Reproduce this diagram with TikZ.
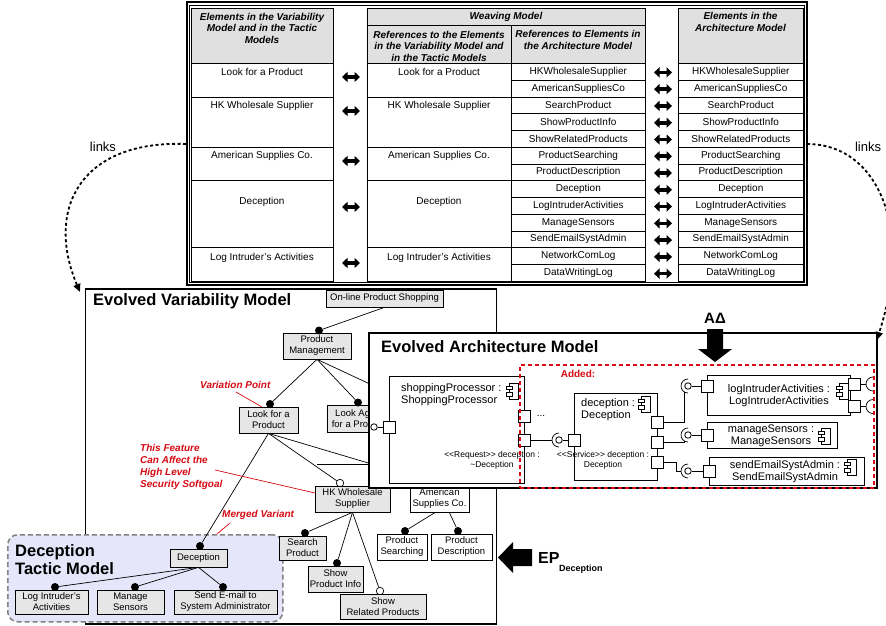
\documentclass[tikz,border=0pt]{standalone}
\usepackage{fontspec}
\setmainfont{Liberation Sans}
\usetikzlibrary{arrows.meta,calc}
\definecolor{hdrgray}{RGB}{224,224,224}
\definecolor{featgray}{RGB}{230,230,230}
\definecolor{tacticbg}{RGB}{230,230,250}
\definecolor{tacticedge}{RGB}{128,128,128}
\definecolor{notered}{RGB}{215,10,20}
\newcommand\setsz[2]{\fontsize{#1}{#2}\selectfont}

\begin{document}
\begin{tikzpicture}[x=1pt, y=-1pt,
  cell/.style={draw, line width=0.6pt, inner sep=0pt, anchor=north west, font=\setsz{10}{12}},
  hcell/.style={cell, fill=hdrgray},
  htext/.style={inner sep=0pt, align=center, font=\setsz{10}{11.5}\bfseries\itshape},
  btext/.style={inner sep=0pt, font=\setsz{10}{12}},
  dbl/.style={line width=3.6pt, {Triangle[length=5.5pt,width=10pt]}-{Triangle[length=5.5pt,width=10pt]}},
  feat/.style={draw, line width=0.7pt, fill=featgray, inner sep=0pt, align=center, font=\setsz{9.5}{11}},
  featw/.style={feat, fill=white},
  dot/.style={circle, fill=black, inner sep=0pt, minimum size=8pt},
  odot/.style={circle, draw, line width=0.7pt, fill=white, inner sep=0pt, minimum size=7.5pt},
  edge/.style={line width=0.7pt},
  note/.style={text=notered, inner sep=0pt, font=\setsz{10}{12}\bfseries\itshape},
  noteline/.style={draw=notered, line width=0.7pt},
  link/.style={line width=1.8pt, dash pattern=on 3pt off 2.5pt, -{Triangle[length=8pt,width=7pt]}},
  title/.style={inner sep=0pt, font=\setsz{16.5}{18}\bfseries},
  comp/.style={draw, line width=0.8pt, fill=white, inner sep=0pt, anchor=north west},
  ctext/.style={inner sep=0pt, align=center, font=\setsz{11}{12}},
  port/.style={draw, line width=0.8pt, fill=white, minimum size=12pt, inner sep=0pt},
  ball/.style={circle, draw, line width=0.8pt, fill=white, minimum size=6.5pt, inner sep=0pt},
  stereo/.style={inner sep=0pt, align=center, font=\setsz{8.5}{10.5}},
  compicon/.pic={
    \draw[line width=0.6pt, fill=white] (-4,-8) rectangle (5,8);
    \draw[line width=0.6pt, fill=white] (-7,-5) rectangle (-1,-1.5);
    \draw[line width=0.6pt, fill=white] (-7,1.5) rectangle (-1,5);
  }
]
\useasboundingbox (0,0) rectangle (886,626);
\clip (0,0) rectangle (886,626);

% ---------------- weaving table ----------------
\draw[line width=2pt] (186.5,2.5) rectangle (806.5,284.5);
\draw[line width=0.5pt] (189.5,5.5) rectangle (804,282);

\node[hcell, minimum width=142, minimum height=55] (h1) at (191,8) {};
\node[htext] (h1t) at (262,28) {Elements in the Variability\\Model and in the Tactic\\Models};
\node[hcell, minimum width=278, minimum height=17] (hw) at (367,8) {};
\node[htext] (hwt) at (506,16.5) {Weaving Model};
\node[hcell, minimum width=144, minimum height=38] (hwa) at (367,25) {};
\node[htext] (hwat) at (439,46) {References to the Elements\\in the Variability Model and\\in the Tactic Models};
\node[hcell, minimum width=134, minimum height=38] (hwb) at (511,25) {};
\node[htext] (hwbt) at (578,40) {References to Elements in\\the Architecture Model};
\node[hcell, minimum width=125, minimum height=55] (ha) at (678,8) {};
\node[htext] (hat) at (740.5,22) {Elements in the\\Architecture Model};

% grouped rows (variability / tactic elements)
\foreach \gs/\gn/\txt/\ty [count=\k] in {0/2/Look for a Product/72, 2/3/HK Wholesale Supplier/106,
    5/2/American Supplies Co./156, 7/4/Deception/202, 11/2/Log Intruder's Activities/258} {
  \pgfmathsetmacro\gy{63+\gs*16.77}
  \pgfmathsetmacro\gh{\gn*16.77}
  \pgfmathsetmacro\ay{\ty+5}
  \node[cell, minimum width=142, minimum height=\gh] (ve\k) at (191,\gy) {};
  \node[btext] (vet\k) at (262,\ty) {\txt};
  \node[cell, minimum width=144, minimum height=\gh] (wa\k) at (367,\gy) {};
  \node[btext] (wat\k) at (439,\ty) {\txt};
  \coordinate (la\k) at (342,\ay);
  \coordinate (lb\k) at (360,\ay);
  \draw[dbl] (la\k) -- (lb\k);
}

% single rows (architecture elements)
\foreach \txt [count=\i from 0] in {HKWholesaleSupplier, AmericanSuppliesCo, SearchProduct,
    ShowProductInfo, ShowRelatedProducts, ProductSearching, ProductDescription, Deception,
    LogIntruderActivities, ManageSensors, SendEmailSystAdmin, NetworkComLog, DataWritingLog} {
  \pgfmathsetmacro\ry{63+\i*16.77}
  \pgfmathsetmacro\rc{\ry+9.4}
  \node[cell, minimum width=134, minimum height=16.77] (wb\i) at (511,\ry) {\txt};
  \node[cell, minimum width=125, minimum height=16.77] (ae\i) at (678,\ry) {\txt};
  \coordinate (ra\i) at (654,\rc);
  \coordinate (rb\i) at (672,\rc);
  \draw[dbl] (ra\i) -- (rb\i);
}

% ---------------- links ----------------
\coordinate (lkL0) at (186,144);
\coordinate (lkL1) at (80,292);
\draw[link] (lkL0) .. controls (80,140) and (45,210) .. (lkL1);
\node[inner sep=0pt, font=\setsz{13}{15}] (lkLt) at (103,147) {links};
\coordinate (lkR0) at (807,144);
\coordinate (lkRm) at (892,260);
\coordinate (lkR1) at (877,340);
\draw[link] (lkR0) .. controls (865,144) and (895,200) .. (lkRm) .. controls (890,300) and (883,320) .. (lkR1);
\node[inner sep=0pt, font=\setsz{13}{15}] (lkRt) at (868,147) {links};

% ---------------- evolved variability model ----------------
\node[draw, line width=1.8pt, inner sep=0pt, minimum width=411, minimum height=335, anchor=north west] (evm) at (84.5,288) {};
\node[title, anchor=north west] (evmt) at (93,293) {Evolved Variability Model};

\node[draw=tacticedge, fill=tacticbg, line width=1.5pt, dash pattern=on 5pt off 3pt, rounded corners=10pt,
  inner sep=0pt, minimum width=275, minimum height=87, anchor=north west] (dtm) at (7,534) {};
\node[title, anchor=north west, align=left] (dtmt) at (15,544) {Deception\\Tactic Model};

\node[feat, minimum width=117, minimum height=17] (online) at (384.5,298.5) {On-line Product Shopping};
\node[feat, minimum width=68, minimum height=26] (pm) at (317,346) {Product\\Management};
\node[feat, minimum width=59, minimum height=26] (look) at (268.5,420) {Look for a\\Product};
\node[feat, minimum width=64, minimum height=27] (lookag) at (359,418.5) {Look Again\\for a Product};
\node[feat, minimum width=75, minimum height=26] (hk) at (352.5,499) {HK Wholesale\\Supplier};
\node[featw, minimum width=59, minimum height=28] (amer) at (439.5,498.5) {American\\Supplies Co.};
\node[feat, minimum width=47, minimum height=24] (search) at (302.5,548) {Search\\Product};
\node[feat, minimum width=55, minimum height=26] (spi) at (335.5,579) {Show\\Product Info};
\node[feat, minimum width=86, minimum height=25] (srp) at (383,606.5) {Show\\Related Products};
\node[featw, minimum width=50, minimum height=26] (psrch) at (402,547) {Product\\Searching};
\node[featw, minimum width=61, minimum height=26] (pdesc) at (461.5,547) {Product\\Description};
\node[feat, minimum width=57, minimum height=18] (dec) at (198.5,558) {Deception};
\node[feat, minimum width=73, minimum height=24] (lia) at (51.5,602) {Log Intruder's\\Activities};
\node[feat, minimum width=67, minimum height=24] (msn) at (130.5,602) {Manage\\Sensors};
\node[feat, minimum width=103, minimum height=24] (sem) at (225.5,602) {Send E-mail to\\System Administrator};

\node[dot] (pmd) at (319,330.5) {};
\node[dot] (lookd) at (270,404) {};
\node[dot] (lookagd) at (358,402.5) {};
\node[odot] (hkd) at (340,483) {};
\node[dot] (searchd) at (305,533) {};
\node[dot] (spid) at (337,563) {};
\node[odot] (srpd) at (380,591) {};
\node[dot] (psrchd) at (405,531) {};
\node[dot] (pdescd) at (458,531) {};
\node[dot] (decd) at (200,546) {};
\node[dot] (liad) at (55,587) {};
\node[dot] (msnd) at (135,587) {};
\node[dot] (semd) at (223,587) {};

\coordinate (pmh) at (430,412);
\coordinate (hl1) at (317,464);
\coordinate (hl2) at (420,464);
\draw[edge] (online.south) -- (pmd);
\draw[edge] (pm.south) -- (lookd);
\draw[edge] (pm.south) -- (lookagd);
\draw[edge] (pm.south) -- (pmh);
\draw[edge] (look.south) -- (hkd);
\draw[edge] (look.south) -- (decd);
\draw[edge] (look.south) -- (amer.north);
\draw[edge] (hl1) -- (hl2);
\draw[edge] (hk.south) -- (searchd);
\draw[edge] (hk.south) -- (spid);
\draw[edge] (hk.south) -- (srpd);
\draw[edge] ($(amer.south)+(-5,0)$) -- (psrchd);
\draw[edge] ($(amer.south)+(10,0)$) -- (pdescd);
\draw[edge] (dec.south) -- (liad);
\draw[edge] (dec.south) -- (msnd);
\draw[edge] (dec.south) -- (semd);

% annotations
\node[note, anchor=west] (vp) at (200,385) {Variation Point};
\coordinate (vpa) at (236,392);
\coordinate (vpb) at (262,407);
\draw[noteline] (vpa) -- (vpb);
\node[note, anchor=north west, align=left] (tf) at (140,444) {This Feature\\Can Affect the\\High Level\\Security Softgoal};
\coordinate (tfa) at (215,470);
\coordinate (tfb) at (315,493);
\draw[noteline] (tfa) -- (tfb);
\node[note, anchor=west] (mv) at (222,515) {Merged Variant};
\coordinate (mva) at (230,523);
\coordinate (mvb) at (217,534);
\draw[noteline] (mva) -- (mvb);

% ---------------- evolved architecture model ----------------
\node[draw, line width=1.8pt, fill=white, inner sep=0pt, minimum width=508, minimum height=155, anchor=north west] (eam) at (368,332) {};
\node[title, anchor=north west] (eamt) at (381,340) {Evolved Architecture Model};

% shopping processor
\node[comp, minimum width=135, minimum height=107] (shop) at (389,376) {};
\node[ctext, anchor=north west, align=left] (shopt) at (401,383) {shoppingProcessor :\\ShoppingProcessor};
\pic at (513,391) {compicon};
\node[port] (sp0) at (389,427) {};
\node[ball] (spb) at (374,427) {};
\draw[edge] (spb) -- (sp0);
\node[port] (sp1) at (524,416) {};
\node[port] (sp2) at (524,440) {};
\node[inner sep=0pt, font=\setsz{10}{12}] (spdots) at (541,416) {...};
\node[stereo] (spst) at (492,460.5) {<{}<Request>{}> deception :\\\textasciitilde Deception};

% deception
\node[comp, minimum width=83, minimum height=87] (decc) at (574,393) {};
\node[ctext, anchor=north west, align=left] (dect) at (581,398) {deception :\\Deception};
\pic at (645,404) {compicon};
\node[port] (dp0) at (574,440) {};
\node[port] (dp1) at (657,422) {};
\node[port] (dp2) at (657,442) {};
\node[port] (dp3) at (657,462) {};
\node[stereo] (dpst) at (603,460.5) {<{}<Service>{}> deception :\\Deception};

% assembly between shoppingProcessor and deception
\node[ball] (db0) at (559,440) {};
\draw[edge] (559,433) arc[start angle=270, end angle=90, radius=7];
\coordinate (sk0) at (552,440);
\draw[edge] (sp2.east) -- (sk0);
\draw[edge] (db0) -- (dp0);

% log intruder activities
\node[comp, minimum width=143, minimum height=40] (lic) at (707,375) {};
\node[ctext] (lict) at (779,396) {logIntruderActivities :\\LogIntruderActivities};
\pic at (843,391) {compicon};
\node[port] (li0) at (707,386) {};
\node[port] (li1) at (854,384) {};
\node[port] (li2) at (854,406.5) {};
\node[ball] (lb) at (688,386) {};
\draw[edge] (688,379) arc[start angle=270, end angle=90, radius=7];
\coordinate (lk) at (684.5,392);
\draw[edge] (dp1.east) -| (lk);
\draw[edge] (lb) -- (li0);
\coordinate (lr1) at (866,384);
\coordinate (lr2) at (866,406.5);
\draw[edge] (li1.east) -- (lr1);
\draw[edge] (li2.east) -- (lr2);
\draw[edge] (873,377) arc[start angle=270, end angle=90, radius=7];
\draw[edge] (873,399.5) arc[start angle=270, end angle=90, radius=7];

% manage sensors
\node[comp, minimum width=130, minimum height=26] (msc) at (707,422) {};
\node[ctext] (msct) at (771,435.5) {manageSensors :\\ManageSensors};
\pic at (825,436) {compicon};
\node[port] (ms0) at (707,435) {};
\node[ball] (mb) at (688,435) {};
\draw[edge] (688,428) arc[start angle=270, end angle=90, radius=7];
\coordinate (mk) at (684.5,441);
\draw[edge] (dp2.east) -| (mk);
\draw[edge] (mb) -- (ms0);

% send email
\node[comp, minimum width=155, minimum height=28] (sec) at (709,457) {};
\node[ctext] (sect) at (785,471.5) {sendEmailSystAdmin :\\SendEmailSystAdmin};
\pic at (851,467) {compicon};
\node[port] (se0) at (709,471) {};
\node[ball] (sb) at (688,471) {};
\draw[edge] (688,464) arc[start angle=270, end angle=90, radius=7];
\coordinate (sk1) at (676,462);
\coordinate (sk2) at (676,471);
\coordinate (sk3) at (681,471);
\draw[edge] (dp3.east) -- (sk1) -- (sk2) -- (sk3);
\draw[edge] (sb) -- (se0);

% added part
\node[draw=notered, line width=1.5pt, dash pattern=on 4pt off 3pt, inner sep=0pt,
  minimum width=354, minimum height=123, anchor=north west] (added) at (519,364) {};
\node[text=notered, inner sep=0pt, font=\setsz{10}{12}\bfseries] (addedt) at (578,374) {Added:};

% ---------------- evolution arrows ----------------
\fill (707,329) -- (723,329) -- (723,349) -- (732,349) -- (715,362) -- (698,349) -- (707,349) -- cycle;
\node[inner sep=0pt, font=\setsz{15}{17}\bfseries] (adelta) at (715,318) {AΔ};
\fill (532,549) -- (513,549) -- (513,542) -- (498,557.5) -- (513,573) -- (513,566) -- (532,566) -- cycle;
\node[inner sep=0pt, anchor=west, font=\setsz{16}{18}\bfseries] (ep) at (538,558) {EP};
\node[inner sep=0pt, anchor=west, font=\setsz{9}{10}\bfseries] (eps) at (559,569.5) {Deception};
\end{tikzpicture}
\end{document}
